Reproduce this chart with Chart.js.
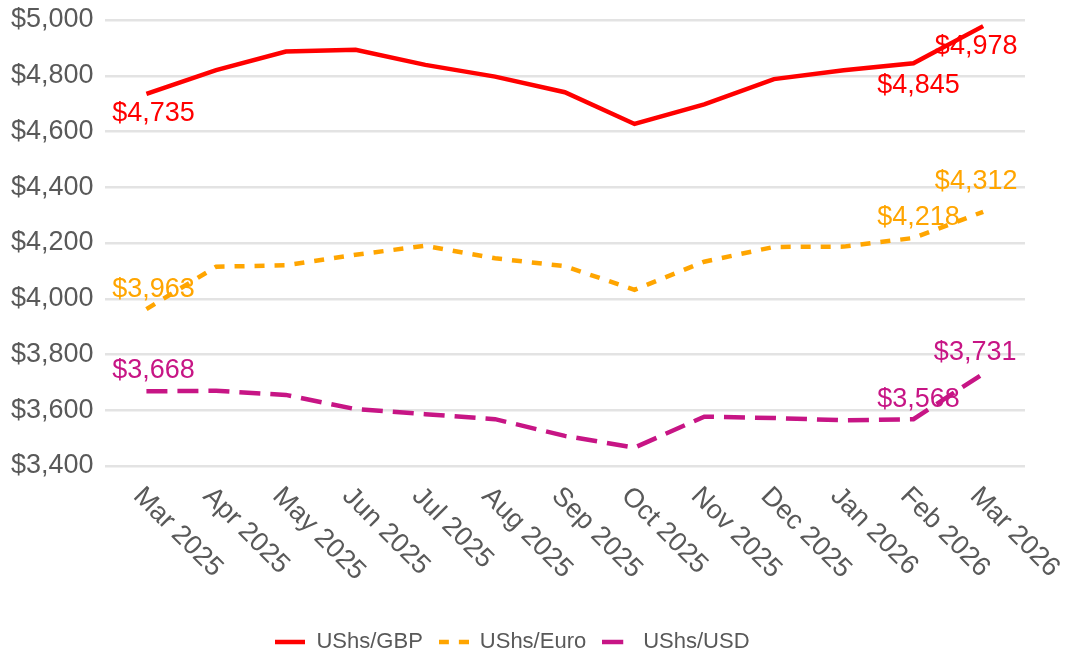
<!DOCTYPE html>
<html>
<head>
<meta charset="utf-8">
<script src="https://cdn.jsdelivr.net/npm/chart.js@4.4.1/dist/chart.umd.min.js"></script>
<style>
  html, body { margin: 0; padding: 0; background: #fff; }
</style>
</head>
<body>
<canvas id="grafico" width="1066" height="659"></canvas>
<script>
// Meses e cotações
const meses = ['Mar 2025', 'Apr 2025', 'May 2025', 'Jun 2025', 'Jul 2025', 'Aug 2025', 'Sep 2025',
               'Oct 2025', 'Nov 2025', 'Dec 2025', 'Jan 2026', 'Feb 2026', 'Mar 2026'];
const gbp  = [4735, 4820, 4887, 4893, 4839, 4797, 4741, 4627, 4697, 4788, 4820, 4845, 4978];
const euro = [3963, 4115, 4120, 4158, 4190, 4145, 4117, 4032, 4133, 4186, 4187, 4218, 4312];
const usd  = [3668, 3670, 3655, 3604, 3586, 3568, 3508, 3466, 3577, 3572, 3564, 3568, 3731];
const yLabels = [3400, 3600, 3800, 4000, 4200, 4400, 4600, 4800, 5000];

const cinza = '#595959';
const fonte = '"Liberation Sans", Arial, sans-serif';
Chart.defaults.font.family = fonte;

const pontos = arr => arr.map((v, i) => ({ x: i, y: v }));
const dinheiro = v => '$' + v.toLocaleString('en-US');

// amostra da linha (com tracejado) para a legenda
function amostra(cor, dash) {
    const c = document.createElement('canvas');
    c.width = 30;
    c.height = 6;
    const g = c.getContext('2d');
    g.strokeStyle = cor;
    g.lineWidth = 4.5;
    g.setLineDash(dash);
    g.beginPath();
    g.moveTo(0, 3);
    g.lineTo(30, 3);
    g.stroke();
    return c;
}

// rótulos do eixo x girados 45 graus para baixo
const rotulosX = {
    id: 'rotulosX',
    afterDraw(chart) {
        const ctx = chart.ctx;
        const xs = chart.scales.x;
        ctx.save();
        ctx.font = '27px ' + fonte;
        ctx.fillStyle = cinza;
        ctx.textAlign = 'left';
        ctx.textBaseline = 'middle';
        meses.forEach((m, i) => {
            ctx.save();
            ctx.translate(xs.getPixelForValue(i) - 9, xs.top + 26);
            ctx.rotate(Math.PI / 4);
            ctx.fillText(m, 0, 0);
            ctx.restore();
        });
        ctx.restore();
    }
};

// valores escritos junto a alguns pontos
const rotulosValor = {
    id: 'rotulosValor',
    afterDatasetsDraw(chart) {
        const ctx = chart.ctx;
        ctx.save();
        ctx.font = '27px ' + fonte;
        ctx.textAlign = 'center';
        ctx.textBaseline = 'middle';
        chart.data.datasets.forEach((ds, d) => {
            const meta = chart.getDatasetMeta(d);
            ctx.fillStyle = ds.borderColor;
            ds.rotulos.forEach(r => {
                const p = meta.data[r.i];
                ctx.fillText(dinheiro(ds.data[r.i].y), p.x + r.dx, p.y + r.dy);
            });
        });
        ctx.restore();
    }
};

new Chart(document.getElementById('grafico'), {
    type: 'line',
    data: {
        datasets: [{
            label: 'UShs/GBP',
            data: pontos(gbp),
            borderColor: '#ff0000',
            borderWidth: 4.5,
            borderDash: [],
            rotulos: [{ i: 0, dx: 7, dy: 20 }, { i: 11, dx: 5, dy: 22 }, { i: 12, dx: -7, dy: 20 }]
        }, {
            label: 'UShs/Euro',
            data: pontos(euro),
            borderColor: '#ffa500',
            borderWidth: 4.5,
            borderDash: [10, 10],
            rotulos: [{ i: 0, dx: 7, dy: -20 }, { i: 11, dx: 5, dy: -20 }, { i: 12, dx: -7, dy: -30 }]
        }, {
            label: 'UShs/USD',
            data: pontos(usd),
            borderColor: '#c71585',
            borderWidth: 4.5,
            borderDash: [21, 10],
            rotulos: [{ i: 0, dx: 7, dy: -21 }, { i: 11, dx: 5, dy: -20 }, { i: 12, dx: -8, dy: -21 }]
        }]
    },
    options: {
        responsive: false,
        animation: false,
        devicePixelRatio: 1,
        layout: { padding: { left: 0, right: 41, top: 20, bottom: -4 } },
        elements: {
            point: { radius: 0, hoverRadius: 0 },
            line: { tension: 0, borderCapStyle: 'butt', fill: false }
        },
        scales: {
            x: {
                type: 'linear',
                min: -0.6,
                max: 12.6,
                afterBuildTicks: s => { s.ticks = meses.map((_, i) => ({ value: i })); },
                afterFit: s => { s.height = 149; },
                ticks: { display: false },
                grid: { display: false },
                border: { display: false }
            },
            y: {
                min: 3400,
                max: 5000,
                border: { display: false },
                afterFit: s => { s.paddingTop = 0; s.paddingBottom = 0; },
                ticks: {
                    stepSize: 100,
                    padding: 11,
                    color: cinza,
                    font: { size: 27 },
                    callback: v => yLabels.includes(v) ? dinheiro(v) : ''
                },
                grid: {
                    drawTicks: false,
                    color: c => c.tick.value % 200 === 0 ? '#e3e3e3' : '#ebebeb',
                    lineWidth: c => c.tick.value % 200 === 0 ? 2.5 : 1.5
                }
            }
        },
        plugins: {
            tooltip: { enabled: false },
            legend: {
                position: 'bottom',
                labels: {
                    usePointStyle: true,
                    pointStyleWidth: 30,
                    padding: 16,
                    color: cinza,
                    font: { size: 22 },
                    generateLabels: chart => chart.data.datasets.map((ds, i) => ({
                        text: ds.label,
                        datasetIndex: i,
                        fontColor: cinza,
                        pointStyle: amostra(ds.borderColor, ds.borderDash),
                        lineWidth: 0,
                        hidden: false
                    }))
                }
            }
        }
    },
    plugins: [rotulosX, rotulosValor]
});
</script>
</body>
</html>
